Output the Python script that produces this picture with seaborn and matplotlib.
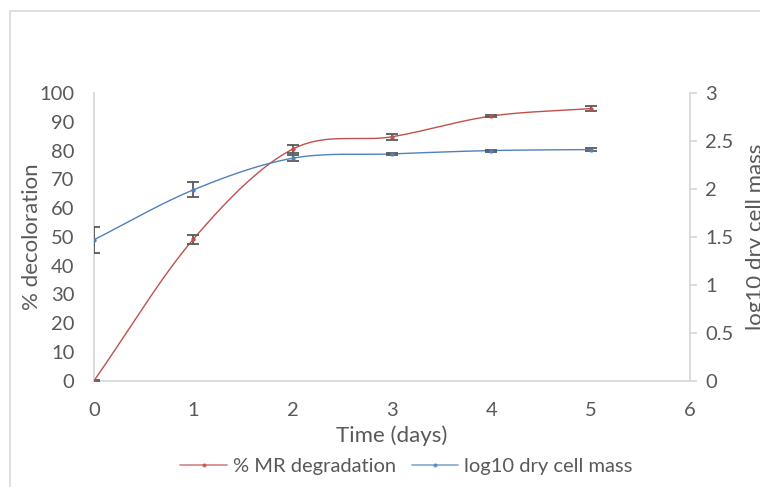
import matplotlib.pyplot as plt
import seaborn as sns
import pandas as pd
import numpy as np
from matplotlib.patches import Rectangle
from matplotlib.lines import Line2D

# Data
days = [0, 1, 2, 3, 4, 5]
mr_degradation = [0.0, 49.2, 80.5, 84.8, 92.0, 94.6]
mr_err = [0.3, 1.6, 1.4, 1.1, 0.4, 0.9]
log_cell_mass = [1.47, 1.99, 2.32, 2.365, 2.40, 2.41]
log_err = [0.135, 0.077, 0.03, 0.01, 0.01, 0.012]

red = '#C0504D'
blue = '#4F81BD'
err_col = '#595959'
grid_col = '#D9D9D9'
text_col = '#595959'


def smooth(x, y, n=40):
    # Catmull-Rom style smoothing like Excel "smoothed line"
    x = np.asarray(x, float)
    y = np.asarray(y, float)
    px = np.concatenate([[2 * x[0] - x[1]], x, [2 * x[-1] - x[-2]]])
    py = np.concatenate([[2 * y[0] - y[1]], y, [2 * y[-1] - y[-2]]])
    xs, ys = [], []
    t = np.linspace(0, 1, n)
    for i in range(1, len(px) - 2):
        for p, out in ((px, xs), (py, ys)):
            p0, p1, p2, p3 = p[i - 1], p[i], p[i + 1], p[i + 2]
            m1 = (p2 - p0) / 2
            m2 = (p3 - p1) / 2
            h00 = 2 * t**3 - 3 * t**2 + 1
            h10 = t**3 - 2 * t**2 + t
            h01 = -2 * t**3 + 3 * t**2
            h11 = t**3 - t**2
            out.extend(h00 * p1 + h10 * m1 + h01 * p2 + h11 * m2)
    return np.array(xs), np.array(ys)


sns.set_theme(style="white")
plt.rcParams['font.family'] = ['Lato', 'DejaVu Sans']

fig = plt.figure(figsize=(7.6, 4.87), dpi=100)
ax = fig.add_axes([0.1237, 0.2183, 0.7843, 0.5907])
ax2 = ax.twinx()

# chart border
fig.patches.append(Rectangle((10 / 760, -0.1), 1.0, 0.1 + (487 - 11) / 487,
                             transform=fig.transFigure, fill=False,
                             edgecolor=grid_col, lw=1.2))

sx, sy = smooth(days, mr_degradation)
sns.lineplot(x=sx, y=sy, ax=ax, color=red, lw=1.0, sort=False)
ax.errorbar(days, mr_degradation, yerr=mr_err, fmt='none', ecolor=err_col,
            elinewidth=1.3, capsize=4.5, capthick=1.3, zorder=4)
sns.scatterplot(x=days, y=mr_degradation, ax=ax, color=red, s=8,
                edgecolor=red, zorder=5)

bx, by = smooth(days, log_cell_mass)
sns.lineplot(x=bx, y=by, ax=ax2, color=blue, lw=1.0, sort=False)
ax2.errorbar(days, log_cell_mass, yerr=log_err, fmt='none', ecolor=err_col,
             elinewidth=1.3, capsize=4.5, capthick=1.3, zorder=4)
sns.scatterplot(x=days, y=log_cell_mass, ax=ax2, color=blue, s=8,
                edgecolor=blue, zorder=5)

ax.set_xlim(0, 6)
ax.set_ylim(0, 100)
ax2.set_ylim(0, 3)
ax.set_xticks(range(0, 7))
ax.set_yticks(range(0, 101, 10))
ax2.set_yticks([0, 0.5, 1, 1.5, 2, 2.5, 3])
ax2.set_yticklabels(['0', '0.5', '1', '1.5', '2', '2.5', '3'])

for a in (ax, ax2):
    for s in a.spines.values():
        s.set_visible(False)
ax.spines['left'].set_visible(True)
ax.spines['bottom'].set_visible(True)
ax2.spines['right'].set_visible(True)
for s in (ax.spines['left'], ax.spines['bottom'], ax2.spines['right']):
    s.set_color(grid_col)
    s.set_linewidth(1.3)

ax.tick_params(axis='x', length=0, labelsize=14.5, colors=text_col, pad=15)
ax.tick_params(axis='y', length=0, labelsize=14.5, colors=text_col, pad=14)
ax2.tick_params(axis='y', length=5, width=1.3, color=grid_col, direction='out',
                labelsize=14.5, labelcolor=text_col, pad=6)

ax.set_xlabel('Time (days)', fontsize=16, color=text_col, labelpad=5)
ax.set_ylabel('% decoloration', fontsize=16, color=text_col, labelpad=-2)
ax2.set_ylabel('log10 dry cell mass', fontsize=16, color=text_col, labelpad=9)

handles = [Line2D([0], [0], color=red, lw=1.2, marker='o', markersize=2, alpha=0.7),
           Line2D([0], [0], color=blue, lw=1.2, marker='o', markersize=2, alpha=0.7)]
fig.legend(handles, ['% MR degradation', 'log10 dry cell mass'], loc='center',
           bbox_to_anchor=(0.535, 1 - 466 / 487), ncol=2, frameon=False,
           fontsize=14.5, labelcolor=text_col, handlelength=2.3, columnspacing=0.8,
           handletextpad=0.3)

fig.savefig('out.png', dpi=100)
